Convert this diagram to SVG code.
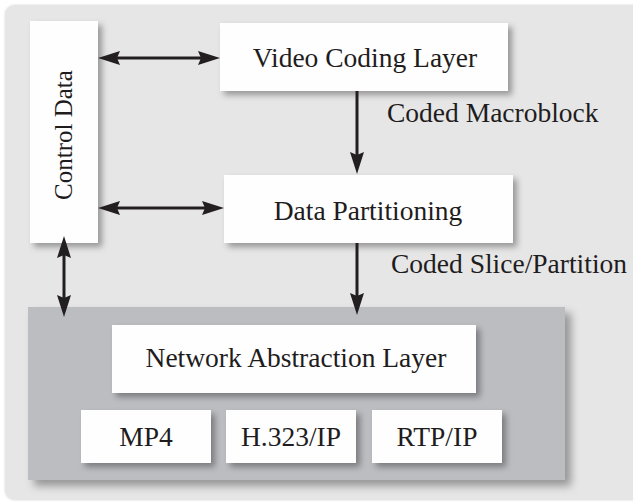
<svg xmlns="http://www.w3.org/2000/svg" width="633" height="502" viewBox="0 0 633 502">
  <style>
    .box { fill: #fefefe; filter: url(#shadow); }
    .lbl { font-family: "Liberation Serif", "Times New Roman", serif; font-size: 27.5px; fill: #1f1c1d; }
    .mid { text-anchor: middle; }
    .conn { stroke: #231f20; stroke-width: 3; fill: none; }
  </style>
  <defs>
    <filter id="shadow" x="-20%" y="-20%" width="150%" height="150%">
      <feDropShadow dx="4" dy="4" stdDeviation="3" flood-color="#000" flood-opacity="0.35"/>
    </filter>
    <filter id="shadowBig" x="-10%" y="-10%" width="130%" height="130%">
      <feDropShadow dx="6" dy="6" stdDeviation="4" flood-color="#000" flood-opacity="0.35"/>
    </filter>
    <filter id="shadowBg" x="-5%" y="-5%" width="110%" height="110%">
      <feDropShadow dx="0" dy="0" stdDeviation="1" flood-color="#000" flood-opacity="0.15"/>
    </filter>
    <marker id="head" markerUnits="userSpaceOnUse" markerWidth="24" markerHeight="16" refX="3" refY="7" orient="auto-start-reverse">
      <path d="M0,0 L22,7 L0,14 L3,7 z" fill="#231f20"/>
    </marker>
  </defs>

  <!-- backdrop panel -->
  <rect x="5" y="5" width="650" height="495" rx="9" fill="#e6e6e6" filter="url(#shadowBg)"/>

  <!-- network abstraction container -->
  <g id="nal-container">
    <rect x="28" y="307" width="537" height="173" fill="#bcbdc1" filter="url(#shadowBig)"/>
  </g>

  <g id="control-data">
    <rect class="box" x="30" y="21" width="68" height="222"/>
    <text class="lbl mid" style="font-size:25px" transform="translate(72,135) rotate(-90)">Control Data</text>
  </g>

  <g id="video-coding-layer">
    <rect class="box" x="220" y="23" width="288" height="68"/>
    <text class="lbl mid" x="365" y="67">Video Coding Layer</text>
  </g>

  <g id="data-partitioning">
    <rect class="box" x="224" y="175" width="289" height="68"/>
    <text class="lbl mid" x="368" y="220">Data Partitioning</text>
  </g>

  <g id="network-abstraction-layer">
    <rect class="box" x="112" y="325" width="364" height="68"/>
    <text class="lbl mid" x="296" y="367">Network Abstraction Layer</text>
  </g>

  <g id="mp4">
    <rect class="box" x="81" y="410" width="130" height="53"/>
    <text class="lbl mid" x="146" y="446">MP4</text>
  </g>

  <g id="h323-ip">
    <rect class="box" x="226" y="410" width="130" height="53"/>
    <text class="lbl mid" x="291" y="446">H.323/IP</text>
  </g>

  <g id="rtp-ip">
    <rect class="box" x="372" y="410" width="130" height="53"/>
    <text class="lbl mid" x="437" y="446">RTP/IP</text>
  </g>

  <!-- connectors -->
  <g id="connectors">
    <line class="conn" x1="117" y1="58" x2="201" y2="58" marker-start="url(#head)" marker-end="url(#head)"/>
    <line class="conn" x1="117" y1="208" x2="205" y2="208" marker-start="url(#head)" marker-end="url(#head)"/>
    <line class="conn" x1="64" y1="255" x2="64" y2="298" marker-start="url(#head)" marker-end="url(#head)"/>
    <line class="conn" x1="357" y1="91" x2="357" y2="155" marker-end="url(#head)"/>
    <line class="conn" x1="357" y1="243" x2="357" y2="296" marker-end="url(#head)"/>
    <text class="lbl" x="387" y="121.5">Coded Macroblock</text>
    <text class="lbl" x="391" y="273">Coded Slice/Partition</text>
  </g>
</svg>
